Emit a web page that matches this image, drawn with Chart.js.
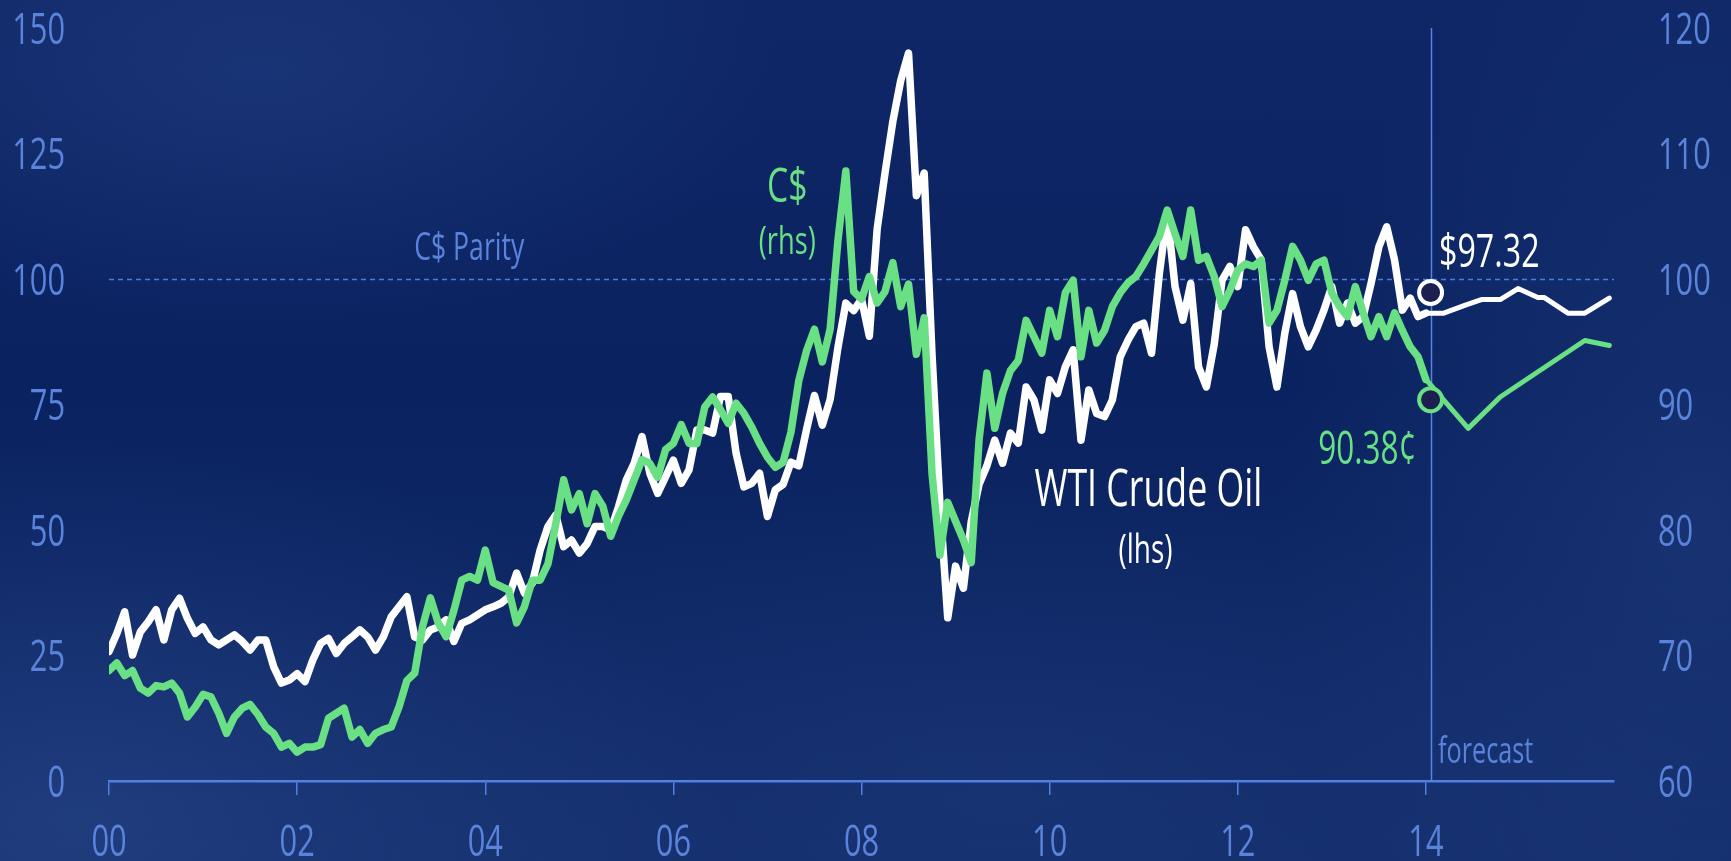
<!DOCTYPE html>
<html>
<head>
<meta charset="utf-8">
<title>WTI Crude Oil and the Canadian Dollar</title>
<script src="https://cdn.jsdelivr.net/npm/chart.js@4/dist/chart.umd.min.js"></script>
<style>
  html, body { margin: 0; padding: 0; overflow: hidden; }
  body {
    width: 1731px; height: 861px;
    background:
      radial-gradient(ellipse 520px 260px at 260px 70px, rgba(46, 78, 150, 0.35), rgba(0,0,0,0)),
      radial-gradient(ellipse 650px 380px at 80px 820px, rgba(48, 80, 148, 0.45), rgba(0,0,0,0)),
      radial-gradient(ellipse 420px 620px at 1700px 520px, rgba(44, 74, 140, 0.35), rgba(0,0,0,0)),
      radial-gradient(ellipse 700px 300px at 1000px 780px, rgba(44, 74, 140, 0.25), rgba(0,0,0,0)),
      linear-gradient(180deg, #0f2766 0%, #0a2260 45%, #132d6b 100%);
  }
  canvas { display: block; }
</style>
</head>
<body>
<canvas id="chart" width="1731" height="861"></canvas>
<script>
// Monthly observations, January 2000 to January 2014
const histMonths = [
  '2000-01','2000-02','2000-03','2000-04','2000-05','2000-06','2000-07','2000-08','2000-09','2000-10','2000-11','2000-12',
  '2001-01','2001-02','2001-03','2001-04','2001-05','2001-06','2001-07','2001-08','2001-09','2001-10','2001-11','2001-12',
  '2002-01','2002-02','2002-03','2002-04','2002-05','2002-06','2002-07','2002-08','2002-09','2002-10','2002-11','2002-12',
  '2003-01','2003-02','2003-03','2003-04','2003-05','2003-06','2003-07','2003-08','2003-09','2003-10','2003-11','2003-12',
  '2004-01','2004-02','2004-03','2004-04','2004-05','2004-06','2004-07','2004-08','2004-09','2004-10','2004-11','2004-12',
  '2005-01','2005-02','2005-03','2005-04','2005-05','2005-06','2005-07','2005-08','2005-09','2005-10','2005-11','2005-12',
  '2006-01','2006-02','2006-03','2006-04','2006-05','2006-06','2006-07','2006-08','2006-09','2006-10','2006-11','2006-12',
  '2007-01','2007-02','2007-03','2007-04','2007-05','2007-06','2007-07','2007-08','2007-09','2007-10','2007-11','2007-12',
  '2008-01','2008-02','2008-03','2008-04','2008-05','2008-06','2008-07','2008-08','2008-09','2008-10','2008-11','2008-12',
  '2009-01','2009-02','2009-03','2009-04','2009-05','2009-06','2009-07','2009-08','2009-09','2009-10','2009-11','2009-12',
  '2010-01','2010-02','2010-03','2010-04','2010-05','2010-06','2010-07','2010-08','2010-09','2010-10','2010-11','2010-12',
  '2011-01','2011-02','2011-03','2011-04','2011-05','2011-06','2011-07','2011-08','2011-09','2011-10','2011-11','2011-12',
  '2012-01','2012-02','2012-03','2012-04','2012-05','2012-06','2012-07','2012-08','2012-09','2012-10','2012-11','2012-12',
  '2013-01','2013-02','2013-03','2013-04','2013-05','2013-06','2013-07','2013-08','2013-09','2013-10','2013-11','2013-12',
  '2014-01'
];

// WTI crude oil, US$ per barrel (left axis)
const wtiPrice = [
  25.8, 29.4, 33.7, 25.1, 29.7, 31.7, 34.1, 28.1, 34.1, 36.4, 32.4, 29.4,
  30.7, 28.1, 27.1, 28.1, 29.1, 27.8, 26.1, 28.1, 28.1, 22.8, 19.5, 20.1,
  21.4, 19.8, 24.1, 27.4, 28.4, 25.4, 27.4, 28.7, 30.1, 28.7, 26.1, 28.7,
  32.7, 34.7, 36.7, 28.7, 28.1, 30.1, 30.7, 32.1, 27.8, 31.4, 32.1, 33.1,
  34.1, 34.7, 35.4, 36.7, 41.4, 37.4, 39.4, 46.0, 50.7, 53.0, 46.7, 48.0,
  45.4, 47.3, 50.7, 50.7, 50.0, 54.6, 60.0, 63.3, 68.6, 61.3, 57.3, 60.6,
  63.9, 59.3, 62.0, 69.9, 69.9, 69.3, 76.6, 76.6, 65.3, 58.6, 59.3, 61.3,
  52.7, 58.0, 59.1, 63.5, 62.8, 70.1, 76.8, 70.9, 76.0, 86.4, 95.2, 93.7,
  96.0, 88.6, 110.0, 121.1, 131.4, 139.5, 145.0, 116.6, 121.1, 84.9, 55.4, 32.5,
  42.8, 38.4, 51.7, 59.1, 62.8, 67.9, 63.3, 69.3, 67.3, 78.5, 75.9, 69.9,
  79.9, 77.2, 82.5, 85.9, 67.9, 77.9, 73.2, 72.6, 75.9, 84.5, 87.8, 90.5,
  91.2, 85.2, 101.1, 113.1, 98.5, 91.8, 99.1, 82.5, 78.5, 87.0, 99.8, 102.5,
  98.5, 109.8, 106.4, 103.8, 86.5, 78.5, 89.2, 97.1, 90.5, 86.5, 89.8, 93.8,
  98.5, 91.2, 95.2, 91.2, 92.5, 99.1, 106.4, 110.4, 103.8, 93.8, 96.2, 92.5,
  93.2
];

// Canadian dollar, US cents (right axis)
const cadCents = [
  68.8, 69.4, 68.4, 68.8, 67.4, 67.0, 67.6, 67.5, 67.8, 67.0, 65.1, 65.9,
  66.9, 66.7, 65.4, 63.8, 65.1, 65.8, 66.1, 65.3, 64.3, 63.8, 62.7, 63.0,
  62.3, 62.7, 62.7, 62.9, 65.0, 65.4, 65.8, 63.5, 64.1, 63.0, 63.8, 64.1,
  64.3, 65.9, 68.0, 68.6, 72.3, 74.6, 72.6, 71.5, 73.6, 76.0, 76.3, 76.0,
  78.4, 75.8, 75.5, 75.2, 72.6, 73.9, 76.0, 76.0, 77.3, 80.5, 84.0, 81.6,
  82.9, 80.5, 82.9, 81.9, 79.5, 81.1, 82.4, 84.0, 85.6, 85.3, 84.2, 86.4,
  86.9, 88.4, 86.9, 86.9, 89.8, 90.6, 89.6, 88.5, 90.1, 89.3, 88.2, 86.9,
  85.8, 85.0, 85.4, 87.8, 91.9, 94.3, 96.0, 93.4, 96.0, 103.1, 108.6, 99.0,
  98.4, 100.2, 98.1, 99.0, 101.3, 97.8, 99.6, 94.0, 96.9, 84.5, 78.0, 82.2,
  80.7, 79.2, 77.4, 87.2, 92.5, 88.1, 90.9, 92.7, 93.5, 96.7, 95.4, 94.1,
  97.5, 95.4, 98.9, 99.9, 93.8, 97.5, 94.9, 95.9, 97.8, 98.9, 99.7, 100.2,
  101.2, 102.3, 103.4, 105.5, 103.6, 101.8, 105.5, 101.5, 101.8, 100.2, 97.8, 99.1,
  100.7, 101.2, 101.0, 101.5, 96.5, 97.5, 99.9, 102.6, 101.5, 99.9, 101.2, 101.5,
  98.9, 97.8, 97.0, 99.4, 97.3, 95.4, 97.0, 95.4, 97.3, 95.9, 94.6, 93.8,
  92.0
];

// Forecast path (decimal years)
const wtiForecastDates = [2014.0, 2014.19, 2014.42, 2014.59, 2014.79, 2014.98, 2015.19, 2015.26, 2015.51, 2015.69, 2015.95];
const wtiForecast      = [93.2, 93.2, 94.8, 95.9, 95.9, 98.1, 96.3, 96.3, 93.2, 93.2, 96.2];
const cadForecastDates = [2014.0, 2014.45, 2014.79, 2015.69, 2015.95];
const cadForecast      = [92.0, 88.1, 90.6, 95.1, 94.7];

// Latest quotes at the start of the forecast period
const forecastStart = 2014.05;
const wtiSpot = 97.32;
const cadSpot = 90.38;
const cadParity = 100;

// Axis ticks
const xTickYears  = [2000, 2002, 2004, 2006, 2008, 2010, 2012, 2014];
const xTickLabels = ['00', '02', '04', '06', '08', '10', '12', '14'];
const leftTicks   = [0, 25, 50, 75, 100, 125, 150];
const rightTicks  = [60, 70, 80, 90, 100, 110, 120];

const FONT = "'Open Sans', 'Noto Sans', 'DejaVu Sans', sans-serif";
const SQUEEZE = 0.7;          // condensed lettering
const CAP = 0.714;            // cap height of the face, in em
const BLUE_TEXT = '#5a83db';
const AXIS_BLUE = '#4f80e2';
const GREEN = '#6ae085';
const WHITE = '#ffffff';

function monthToYear(label) {
  const [y, m] = label.split('-').map(Number);
  return y + (m - 1) / 12;
}
const histX = histMonths.map(monthToYear);
const toPoints = (xs, ys) => xs.map((x, i) => ({ x, y: ys[i] }));

// Text drawn narrow; (px, py) is the middle of the capital letters
function condensedText(ctx, text, px, py, size, color, align) {
  ctx.save();
  ctx.font = size + 'px ' + FONT;
  ctx.fillStyle = color;
  ctx.textAlign = align || 'center';
  ctx.textBaseline = 'alphabetic';
  ctx.translate(px, py + size * CAP / 2);
  ctx.scale(SQUEEZE, 1);
  ctx.fillText(text, 0, 0);
  ctx.restore();
}

// Parity line, forecast divider, axis labels and annotations
const overlay = {
  id: 'overlay',
  beforeDatasetsDraw(chart) {
    const { ctx, scales } = chart;
    const x = scales.x, y = scales.y;
    ctx.save();
    ctx.strokeStyle = '#4d7ddc';
    ctx.lineWidth = 1.5;
    ctx.setLineDash([5, 4]);
    const py = Math.round(y.getPixelForValue(cadParity)) + 0.5;
    ctx.beginPath();
    ctx.moveTo(x.getPixelForValue(2000), py);
    ctx.lineTo(x.getPixelForValue(2016), py);
    ctx.stroke();
    ctx.setLineDash([]);
    ctx.strokeStyle = '#5585e2';
    ctx.lineWidth = 1.5;
    const fx = Math.round(x.getPixelForValue(forecastStart)) + 0.5;
    ctx.beginPath();
    ctx.moveTo(fx, y.getPixelForValue(0));
    ctx.lineTo(fx, y.getPixelForValue(150));
    ctx.stroke();
    ctx.restore();
  },
  afterDatasetsDraw(chart) {
    const { ctx, scales } = chart;
    const x = scales.x, y = scales.y;
    const put = (text, xv, yv, size, color, align) =>
      condensedText(ctx, text, x.getPixelForValue(xv), y.getPixelForValue(yv), size, color, align);
    put('C$ Parity', 2003.83, 106.4, 38, BLUE_TEXT);
    put('C$', 2007.21, 118.7, 48, GREEN);
    put('(rhs)', 2007.21, 107.8, 39, GREEN);
    put('WTI Crude Oil', 2011.05, 58.4, 51, WHITE);
    put('(lhs)', 2011.02, 46.2, 40, WHITE);
    put('$' + wtiSpot.toFixed(2), 2014.14, 105.6, 46, WHITE, 'left');
    put(cadSpot.toFixed(2) + '\u00A2', 2013.90, 66.4, 45, GREEN, 'right');
    put('forecast', 2014.13, 6.2, 36, BLUE_TEXT, 'left');
  },
  afterDraw(chart) {
    const { ctx, scales } = chart;
    const { x, y, y2 } = scales;
    x.ticks.forEach((t) => {
      condensedText(ctx, xTickLabels[xTickYears.indexOf(t.value)], x.getPixelForValue(t.value),
        x.top + 59, 44, BLUE_TEXT, 'center');
    });
    y.ticks.forEach(t => {
      condensedText(ctx, String(t.value), y.left + 65, y.getPixelForValue(t.value), 44, BLUE_TEXT, 'right');
    });
    y2.ticks.forEach(t => {
      condensedText(ctx, String(t.value), y2.left + 44, y2.getPixelForValue(t.value), 44, BLUE_TEXT, 'left');
    });
  }
};

new Chart(document.getElementById('chart'), {
  type: 'line',
  data: {
    datasets: [
      {
        label: 'WTI spot', data: [{ x: forecastStart, y: wtiSpot }], yAxisID: 'y', order: 0,
        showLine: false, pointRadius: 11.5, pointHoverRadius: 11.5, pointBorderWidth: 4,
        pointBackgroundColor: '#1c1f50', pointBorderColor: WHITE
      },
      {
        label: 'C$ spot', data: [{ x: forecastStart, y: cadSpot }], yAxisID: 'y2', order: 0,
        showLine: false, pointRadius: 11.5, pointHoverRadius: 11.5, pointBorderWidth: 4,
        pointBackgroundColor: '#1c1f50', pointBorderColor: GREEN
      },
      {
        label: 'C$', data: toPoints(histX, cadCents), yAxisID: 'y2', order: 1,
        borderColor: GREEN, borderWidth: 7.5, pointRadius: 0, tension: 0,
        borderJoinStyle: 'round', borderCapStyle: 'round'
      },
      {
        label: 'C$ forecast', data: toPoints(cadForecastDates, cadForecast), yAxisID: 'y2', order: 1,
        borderColor: GREEN, borderWidth: 5, pointRadius: 0, tension: 0,
        borderJoinStyle: 'round', borderCapStyle: 'round'
      },
      {
        label: 'WTI Crude Oil', data: toPoints(histX, wtiPrice), yAxisID: 'y', order: 2,
        borderColor: WHITE, borderWidth: 7.5, pointRadius: 0, tension: 0,
        borderJoinStyle: 'round', borderCapStyle: 'round'
      },
      {
        label: 'WTI forecast', data: toPoints(wtiForecastDates, wtiForecast), yAxisID: 'y', order: 2,
        borderColor: WHITE, borderWidth: 5, pointRadius: 0, tension: 0,
        borderJoinStyle: 'round', borderCapStyle: 'round'
      }
    ]
  },
  options: {
    responsive: false,
    animation: false,
    events: [],
    layout: { padding: { top: 28, left: 0, right: 0, bottom: 0 } },
    plugins: { legend: { display: false }, tooltip: { enabled: false } },
    scales: {
      x: {
        type: 'linear', min: 2000, max: 2016,
        afterBuildTicks: (s) => { s.ticks = xTickYears.map(v => ({ value: v })); },
        afterFit: (s) => { s.height = 80; },
        ticks: { display: false },
        grid: { display: true, drawOnChartArea: false, drawTicks: true, tickLength: 14, color: AXIS_BLUE, lineWidth: 1.5 },
        border: { display: true, color: AXIS_BLUE, width: 2.5 }
      },
      y: {
        position: 'left', min: 0, max: 150,
        afterBuildTicks: (s) => { s.ticks = leftTicks.map(v => ({ value: v })); },
        afterFit: (s) => { s.width = 109; },
        ticks: { display: false },
        grid: { display: false, drawTicks: false },
        border: { display: false }
      },
      y2: {
        position: 'right', min: 60, max: 120,
        afterBuildTicks: (s) => { s.ticks = rightTicks.map(v => ({ value: v })); },
        afterFit: (s) => { s.width = 117; },
        ticks: { display: false },
        grid: { display: false, drawTicks: false },
        border: { display: false }
      }
    }
  },
  plugins: [overlay]
});
</script>
</body>
</html>
